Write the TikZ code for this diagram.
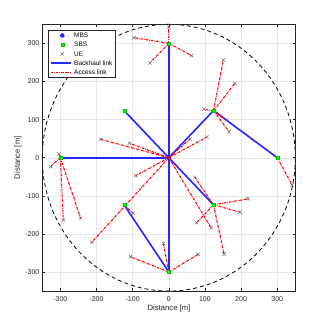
\documentclass[tikz,border=0pt]{standalone}
\usepackage{fontspec}
\setmainfont{Liberation Sans}
\usetikzlibrary{shapes.misc}
\definecolor{axgray}{HTML}{262626}
\definecolor{gridgray}{HTML}{E8E8E8}
\definecolor{mred}{rgb}{1,0,0}
\definecolor{mgreen}{rgb}{0,1,0}
\definecolor{mblue}{rgb}{0.15,0.15,1}
\begin{document}
\begin{tikzpicture}[x=0.3614pt, y=0.381pt,
  sbs/.style={rectangle, fill=mgreen, draw=green!75!black, line width=0.15pt, minimum size=3pt, inner sep=0pt},
  mbs/.style={circle, fill=mblue, minimum size=4.6pt, inner sep=0pt},
  ue/.style={cross out, draw=black!60, line width=0.45pt, minimum size=3pt, inner sep=0pt},
  backhaul/.style={draw=mblue, line width=1.6pt},
  access/.style={draw=mred, line width=1.1pt, dash pattern=on 2.6pt off 1pt on 0.6pt off 1pt},
  ticklab/.style={font=\fontsize{7}{8}\selectfont, text=axgray, inner sep=0pt},
  leglab/.style={font=\fontsize{6.5}{7.5}\selectfont, text=black, inner sep=0pt, anchor=west},
  axlab/.style={font=\fontsize{7.7}{9}\selectfont, text=axgray, inner sep=0pt}]
\useasboundingbox (-168.8pt,-169.3pt) rectangle (158.2pt,157.7pt);
% grid
\foreach \v in {-300,-200,-100,0,100,200,300}{
  \draw[gridgray, line width=0.4pt] (\v,-350) -- (\v,350);
  \draw[gridgray, line width=0.4pt] (-350,\v) -- (350,\v);
}
% coverage circle
\draw[black, line width=0.8pt, dash pattern=on 4pt off 3pt] (0,0) ellipse [x radius=126.49pt, y radius=133.35pt];
% base stations
\coordinate (mbs) at (0,0);
\coordinate (sN) at (0,300);
\coordinate (sW) at (-300,0);
\coordinate (sS) at (0,-300);
\coordinate (sE) at (300,0);
\coordinate (sNW) at (-123.7,123.7);
\coordinate (sNE) at (123.7,123.7);
\coordinate (sSE) at (123.7,-123.7);
\coordinate (sSW) at (-123.7,-123.7);
% users
\coordinate (u1) at (0,344);
\coordinate (u2) at (-96,315);
\coordinate (u3) at (-52,249);
\coordinate (u4) at (63,268);
\coordinate (u5) at (-304,10);
\coordinate (u6) at (-327,-23.5);
\coordinate (u7) at (-292,-164);
\coordinate (u8) at (-244,-159);
\coordinate (u9) at (151,256);
\coordinate (u10) at (183,195);
\coordinate (u11) at (97.5,127);
\coordinate (u12) at (160,99);
\coordinate (u13) at (167,68);
\coordinate (u14) at (341,-71);
\coordinate (u15) at (72.5,-51.5);
\coordinate (u16) at (220,-108);
\coordinate (u17) at (197,-143);
\coordinate (u18) at (77,-170.5);
\coordinate (u19) at (153,-253);
\coordinate (u20) at (81.6,-253.5);
\coordinate (u21) at (-106,-260);
\coordinate (u22) at (-15,-225);
\coordinate (u23) at (-99,-146);
\coordinate (u24) at (-188,48);
\coordinate (u25) at (-109,38);
\coordinate (u26) at (-91,-47);
\coordinate (u27) at (-213,-222);
\coordinate (u28) at (117,-184);
\coordinate (u29) at (105,54);
\coordinate (u30) at (59,49);
% backhaul links
\draw[backhaul] (mbs) -- (sNW);
\draw[backhaul] (mbs) -- (sNE);
\draw[backhaul] (mbs) -- (sSE);
\draw[backhaul] (sNE) -- (sE);
\draw[backhaul] (sS) -- (sSW);
\draw[backhaul] (mbs) -- (sN);
\draw[backhaul] (sW) -- (mbs);
\draw[backhaul] (sS) -- (mbs);
\node[mbs] (mbsm) at (mbs) {};
% access links
\foreach \u in {u1,u2,u3,u4}{\draw[access] (sN) -- (\u);}
\foreach \u in {u5,u6,u7,u8}{\draw[access] (sW) -- (\u);}
\foreach \u in {u9,u10,u11,u12,u13}{\draw[access] (sNE) -- (\u);}
\draw[access] (sE) -- (u14);
\foreach \u in {u15,u16,u17,u18,u19}{\draw[access] (sSE) -- (\u);}
\foreach \u in {u20,u21,u22}{\draw[access] (sS) -- (\u);}
\draw[access] (sSW) -- (u23);
\foreach \u in {u24,u25,u26,u27,u28,u29,u30}{\draw[access] (mbs) -- (\u);}
% markers
\foreach \s in {sN,sW,sS,sE,sNW,sNE,sSE,sSW}{\node[sbs] (\s m) at (\s) {};}
\foreach \i in {1,...,30}{\node[ue] (u\i m) at (u\i) {};}
% axes box and ticks
\draw[axgray, line width=0.5pt] (-350,-350) rectangle (350,350);
\foreach \v in {-300,-200,-100,0,100,200,300}{
  \draw[axgray, line width=0.5pt] (\v,-350) -- ++(0,2.6pt);
  \draw[axgray, line width=0.5pt] (\v,350) -- ++(0,-2.6pt);
  \draw[axgray, line width=0.5pt] (-350,\v) -- ++(2.6pt,0);
  \draw[axgray, line width=0.5pt] (350,\v) -- ++(-2.6pt,0);
  \node[ticklab, anchor=center] (xt\v) at ([yshift=-7.6pt]\v,-350) {\v};
  \node[ticklab, anchor=east] (yt\v) at ([xshift=-2.8pt]-350,\v) {\v};
}
\node[axlab] (xlab) at (0.2pt,-151.3pt) {Distance [m]};
\node[axlab, rotate=90] (ylab) at (-150.8pt,0pt) {Distance [m]};
% legend
\node[draw=axgray, fill=white, line width=0.5pt, minimum width=66.7pt, minimum height=47.3pt, inner sep=0pt, anchor=north west] (leg) at (-120.5pt,127.7pt) {};
\node[mbs] (lg1) at (-106.5pt,122.2pt) {};
\node[sbs] (lg2) at (-106.5pt,113pt) {};
\node[ue] (lg3) at (-106.5pt,103.8pt) {};
\coordinate (lg4a) at (-118.1pt,94.6pt);
\coordinate (lg4b) at (-98.1pt,94.6pt);
\draw[backhaul] (lg4a) -- (lg4b);
\coordinate (lg5a) at (-118.1pt,85.4pt);
\coordinate (lg5b) at (-98.1pt,85.4pt);
\draw[access] (lg5a) -- (lg5b);
\node[leglab] (lt1) at (-94.8pt,122.2pt) {MBS};
\node[leglab] (lt2) at (-94.8pt,113pt) {SBS};
\node[leglab] (lt3) at (-94.8pt,103.8pt) {UE};
\node[leglab] (lt4) at (-94.8pt,94.6pt) {Backhaul link};
\node[leglab] (lt5) at (-94.8pt,85.4pt) {Access link};
\end{tikzpicture}
\end{document}
